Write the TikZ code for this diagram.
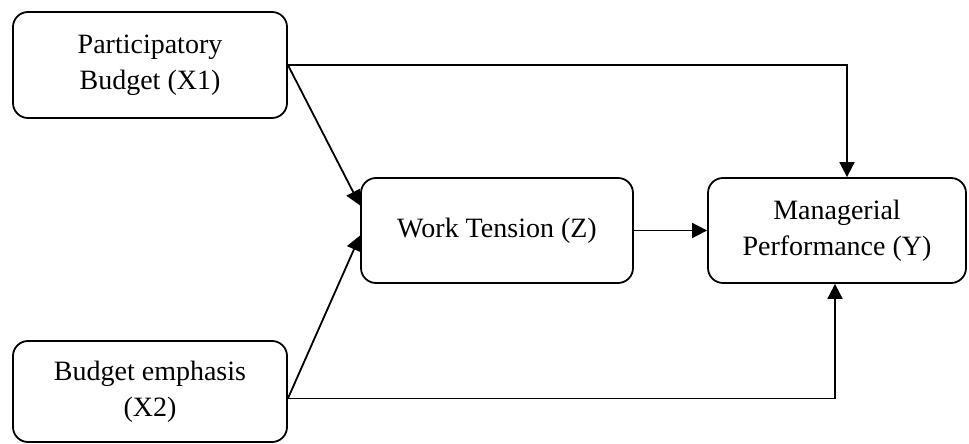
\documentclass[tikz,border=0pt]{standalone}
\usepackage{fontspec}
\setmainfont{Liberation Serif}
\usetikzlibrary{arrows.meta,calc}

\begin{document}
\begin{tikzpicture}[x=1pt, y=1pt,
  every node/.style={font=\fontsize{28}{36}\selectfont},
  varbox/.style={draw, line width=1.8pt, rounded corners=15pt, align=center, inner sep=0pt},
  link/.style={line width=1.8pt, -{Triangle[length=15pt,width=15pt]}}]
  \useasboundingbox (0,0) rectangle (969,444);
  % independent variables on the left
  \node[varbox, minimum width=274pt, minimum height=106pt] (x1) at (150,379) {Participatory\\Budget (X1)};
  \node[varbox, minimum width=274pt, minimum height=101pt] (x2) at (150,52.5) {Budget emphasis\\(X2)};
  % mediator and outcome
  \node[varbox, minimum width=272pt, minimum height=105pt] (z) at (497,213.5) {Work Tension (Z)};
  \node[varbox, minimum width=258pt, minimum height=105pt] (y) at (837,213.5) {Managerial\\Performance (Y)};
  % arrow ends
  \coordinate (x2out) at ($(x2.east)+(0,-7)$);
  \coordinate (zin1) at ($(z.west)+(0,25)$);
  \coordinate (zin2) at ($(z.west)+(0,-5)$);
  \coordinate (ytop) at ($(y.north)+(10,0)$);
  \coordinate (ybot) at ($(y.south)+(-2,0)$);
  % paths
  \draw[link] (x1.east) -- (zin1);
  \draw[link] (x2out) -- (zin2);
  \draw[link] (z.east) -- (y.west);
  \draw[link] (x1.east) -| (ytop);
  \draw[link] (x2out) -| (ybot);
\end{tikzpicture}
\end{document}
